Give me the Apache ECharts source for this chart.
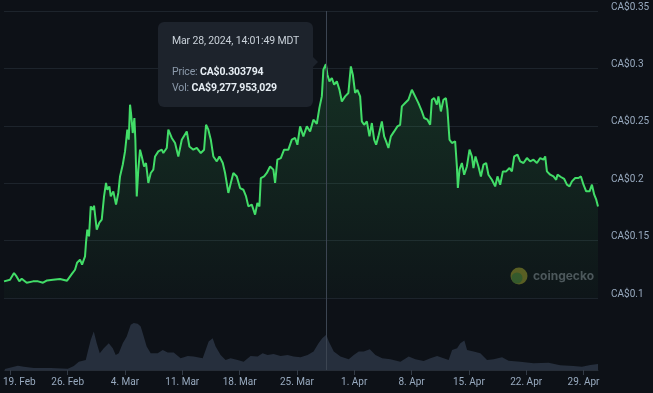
<!DOCTYPE html>
<html><head><meta charset="utf-8">
<script src="https://cdn.jsdelivr.net/npm/echarts@6/dist/echarts.min.js"></script>
<style>html,body{margin:0;padding:0;background:#0d1117;} #chart{width:653px;height:393px;}</style>
</head><body><div id="chart"></div>
<script>
// Days since 19 Feb 2024 00:00
const priceDays = [-0.67,0.06,0.55,0.88,1.20,1.49,2.10,2.87,3.48,4.09,
4.58,5.31,6.16,7.02,7.20,7.63,7.99,8.24,8.60,8.85,
9.21,9.33,9.49,9.70,9.91,10.15,10.31,10.64,10.96,11.25,
11.53,11.77,11.93,12.18,12.35,12.66,12.99,13.27,13.48,13.81,
14.09,14.37,14.54,14.70,14.82,15.03,15.23,15.35,15.52,15.71,
15.92,16.13,16.41,16.65,16.93,17.23,17.54,17.75,18.15,18.36,
18.57,18.76,18.97,19.18,19.37,19.79,20.19,20.59,21.01,21.62,
21.94,22.42,22.84,23.33,23.73,23.97,24.25,24.55,24.86,25.28,
25.60,26.01,26.29,26.69,26.99,27.30,27.72,28.12,28.52,28.85,
29.13,29.55,29.95,30.23,30.48,30.65,31.05,31.38,31.78,32.18,
32.39,32.67,33.09,33.49,34.01,34.43,34.83,35.11,35.44,35.84,
36.26,36.66,37.06,37.48,37.80,38.09,38.28,38.584595,38.77,39.02,
39.31,39.59,39.92,40.24,40.53,40.93,41.33,41.63,41.87,42.15,
42.43,42.76,42.97,43.25,43.58,43.90,44.19,44.47,44.71,44.99,
45.41,45.69,45.93,46.21,46.51,46.91,47.31,47.64,47.85,48.25,
48.65,49.07,49.47,49.87,50.29,50.57,50.97,51.30,51.51,51.79,
52.12,52.31,52.61,52.92,53.22,53.41,53.66,53.95,54.35,54.56,
54.68,54.88,55.17,55.45,55.78,56.10,56.39,56.58,56.83,57.19,
57.49,57.80,58.13,58.41,58.83,59.23,59.51,59.84,60.17,60.57,
60.98,61.27,61.55,61.95,62.28,62.68,63.10,63.50,63.90,64.32,
64.72,65.12,65.33,65.54,65.94,66.34,66.67,66.83,67.25,67.65,
67.98,68.30,68.59,68.99,69.39,69.69,70.00,70.33,70.74,71.03,
71.31,71.56,71.77];
// Price in CA$
const prices = [0.1145,0.1159,0.1218,0.1186,0.1145,0.1168,0.1133,0.1145,0.1145,0.1133,
0.1153,0.1159,0.1165,0.1151,0.1145,0.1212,0.1246,0.1307,0.1334,0.1290,
0.1362,0.1482,0.1595,0.1537,0.1798,0.1769,0.1804,0.1595,0.1656,0.1682,
0.1885,0.2002,0.1943,0.1972,0.1885,0.1929,0.1813,0.1915,0.2059,0.2161,
0.2277,0.2466,0.2379,0.2684,0.2611,0.2437,0.2568,0.2379,0.1885,0.2118,
0.2292,0.2233,0.2146,0.2176,0.2002,0.2089,0.2118,0.2233,0.2277,0.2292,
0.2292,0.2263,0.2248,0.2307,0.2466,0.2394,0.2350,0.2233,0.2379,0.2451,
0.2320,0.2292,0.2307,0.2263,0.2292,0.2509,0.2466,0.2379,0.2233,0.2190,
0.2233,0.2176,0.2089,0.1915,0.2002,0.2089,0.2059,0.1958,0.1943,0.1885,
0.1798,0.1813,0.1726,0.1827,0.1798,0.2045,0.2059,0.2089,0.2146,0.2118,
0.2002,0.2205,0.2219,0.2292,0.2292,0.2379,0.2394,0.2335,0.2495,0.2408,
0.2495,0.2451,0.2553,0.2518,0.2658,0.2756,0.2989,0.303794,0.2945,0.2887,
0.2916,0.2858,0.2887,0.2814,0.2712,0.2756,0.2786,0.3017,0.2945,0.2786,
0.2814,0.2756,0.2538,0.2509,0.2538,0.2408,0.2524,0.2379,0.2335,0.2408,
0.2538,0.2408,0.2364,0.2307,0.2408,0.2451,0.2495,0.2509,0.2669,0.2698,
0.2727,0.2814,0.2756,0.2698,0.2625,0.2568,0.2553,0.2509,0.2727,0.2742,
0.2684,0.2756,0.2625,0.2727,0.2742,0.2640,0.2379,0.2350,0.2364,0.2146,
0.1958,0.2118,0.2176,0.2074,0.2146,0.2292,0.2233,0.2132,0.2233,0.2146,
0.2059,0.2161,0.2176,0.2074,0.2030,0.1972,0.2059,0.1987,0.2103,0.2103,
0.2132,0.2103,0.2233,0.2248,0.2190,0.2176,0.2219,0.2190,0.2205,0.2176,
0.2219,0.2205,0.2233,0.2103,0.2074,0.2059,0.2030,0.2074,0.2054,0.2037,
0.1987,0.1972,0.2016,0.2045,0.2045,0.2059,0.1987,0.1929,0.1929,0.1987,
0.1900,0.1856,0.1798];
const volumeDays = [-0.67,0.92,1.65,2.87,4.94,7.02,7.75,8.36,9.21,9.46,
9.82,10.19,10.55,10.92,11.41,12.02,12.51,12.87,13.24,13.73,
14.21,14.70,15.07,15.55,15.92,16.29,16.65,17.14,17.99,18.61,
19.22,19.95,20.80,21.66,22.39,23.49,23.85,24.22,24.71,25.07,
25.68,26.29,26.90,27.76,28.49,29.34,30.20,30.81,31.42,32.15,
33.00,33.86,34.59,35.44,36.30,37.03,37.64,38.09,38.25,38.584595,
38.89,39.50,40.32,41.33,41.94,42.55,43.16,43.90,44.59,45.41,
46.42,47.64,48.65,49.47,50.48,51.30,52.12,52.92,53.53,53.95,
54.56,54.96,55.45,55.78,56.58,57.40,58.22,59.02,60.05,60.85,
62.28,63.90,65.73,67.16,68.78,69.81,70.83,71.77];
// Volume in billions of CA$
const volumes = [0.27,1.14,0.87,0.53,0.53,0.34,1.06,2.20,2.65,4.85,
7.95,10.15,7.08,4.43,5.75,7.08,5.75,3.98,4.43,7.08,
8.83,11.93,12.38,12.19,11.48,8.83,6.18,4.43,4.43,5.30,
4.59,4.59,3.10,3.71,3.53,3.10,5.30,7.50,8.40,6.18,
3.98,2.65,3.10,2.65,2.20,3.71,3.53,4.43,3.98,4.24,
3.71,3.98,3.53,3.37,3.98,4.85,7.08,8.40,8.90,9.277953029,
7.50,4.85,3.53,2.84,3.98,4.85,4.85,5.49,3.98,3.10,
2.84,2.20,3.53,2.84,2.39,3.10,3.71,3.10,2.65,5.30,
5.75,7.08,7.77,5.30,4.85,4.43,2.65,2.84,3.37,2.47,
2.20,1.78,1.94,1.25,1.06,0.87,1.33,1.59];
const xTickDays = [0,7,14,21,28,35,42,49,56,63,70];
const xTickLabels = ['19. Feb','26. Feb','4. Mar','11. Mar','18. Mar','25. Mar','1. Apr','8. Apr','15. Apr','22. Apr','29. Apr'];
const highlightIndex = 117; // Mar 28, 2024, 14:01:49
const tzLabel = 'MDT';
const monthNames = ['Jan','Feb','Mar','Apr','May','Jun','Jul','Aug','Sep','Oct','Nov','Dec'];

const chart = echarts.init(document.getElementById('chart'), null, {renderer:'canvas'});
const labelColor = '#98aabf';
const pad2 = n => String(n).padStart(2,'0');
const commas = n => String(n).replace(/\B(?=(\d{3})+(?!\d))/g, ',');

chart.setOption({
  backgroundColor: '#0d1117',
  animation: false,
  textStyle: {fontFamily: 'Roboto'},
  grid: [
    {left: 4, right: 55, top: 11, bottom: 95},
    {left: 4, right: 55, top: 298, bottom: 23}
  ],
  xAxis: [
    {type:'value', gridIndex:0, min:priceDays[0], max:priceDays[priceDays.length-1],
     axisLine:{show:false}, axisTick:{show:false}, axisLabel:{show:false}, splitLine:{show:false}},
    {type:'value', gridIndex:1, min:priceDays[0], max:priceDays[priceDays.length-1],
     axisLine:{show:true, lineStyle:{color:'#262d37'}},
     axisTick:{show:true, customValues:xTickDays, length:5, lineStyle:{color:'#333b46'}},
     splitLine:{show:false},
     axisLabel:{customValues:xTickDays, color:labelColor, fontSize:10, fontFamily:'Roboto', margin:7,
       formatter: v => { const i = xTickDays.indexOf(Math.round(v)); return i===0 ? '{first|'+xTickLabels[i]+'}' : xTickLabels[i]; },
       rich:{first:{padding:[0,0,0,18], color:labelColor, fontSize:10, fontFamily:'Roboto'}}}}
  ],
  yAxis: [
    {type:'value', gridIndex:0, position:'right', min:0.1, max:0.35, interval:0.05,
     axisLine:{show:false}, axisTick:{show:false},
     splitLine:{show:true, lineStyle:{color:'#1d242c', width:1}},
     axisLabel:{color:labelColor, fontSize:10, fontFamily:'Roboto', margin:13, verticalAlign:'bottom', lineHeight:8,
       formatter: v => 'CA$' + (+v.toFixed(2))}},
    {type:'value', gridIndex:1, min:0, max:19, show:false, splitLine:{show:false}}
  ],
  axisPointer: {link:[{xAxisIndex:'all'}]},
  tooltip: {
    trigger:'axis', triggerOn:'none', alwaysShowContent:true, transitionDuration:0,
    backgroundColor:'transparent', borderWidth:0, padding:0, extraCssText:'box-shadow:none;',
    axisPointer:{type:'line', animation:false, lineStyle:{color:'#3c4552', width:1, type:'solid'}},
    position: (pt, params, dom, rect, size) => [pt[0] - size.contentSize[0] - 13, pt[1] - 42],
    formatter: params => {
      const ps = params.find(p => p.seriesIndex === 0) || params[0];
      const day = ps.value[0], price = ps.value[1];
      let vi = 0;
      volumeDays.forEach((d,i) => { if (Math.abs(d-day) < Math.abs(volumeDays[vi]-day)) vi = i; });
      const t = new Date(Date.UTC(2024,1,19) + Math.round(day*86400)*1000);
      const dateStr = monthNames[t.getUTCMonth()] + ' ' + t.getUTCDate() + ', ' + t.getUTCFullYear() + ', ' +
        pad2(t.getUTCHours()) + ':' + pad2(t.getUTCMinutes()) + ':' + pad2(t.getUTCSeconds()) + ' ' + tzLabel;
      const volStr = 'CA$' + commas(Math.round(volumes[vi]*1e9));
      const bg = '#1d232c';
      return '<div style="position:relative;width:155px;box-sizing:border-box;padding:11px 14px 12px 14px;background:'+bg+';border-radius:6px;font-family:Roboto;font-size:10.5px;letter-spacing:-0.15px;line-height:15.5px;color:#c9d1d9;white-space:nowrap;">' +
        '<div>' + dateStr + '</div><div>&nbsp;</div>' +
        '<div><span style="color:#8c9aab">Price:</span> <b style="color:#e6edf3">CA$' + price.toFixed(6) + '</b></div>' +
        '<div><span style="color:#8c9aab">Vol:</span> <b style="color:#e6edf3">' + volStr + '</b></div>' +
        '<div style="position:absolute;left:100%;top:35px;width:0;height:0;border-top:5px solid transparent;border-bottom:5px solid transparent;border-left:5px solid '+bg+';"></div>' +
        '</div>';
    }
  },
  graphic: [
    {type:'circle', shape:{cx:519, cy:276, r:8.5}, style:{fill:'#5a5a21'}, silent:true},
    {type:'circle', shape:{cx:517, cy:278, r:5.5}, style:{fill:'#34552a'}, silent:true},
    {type:'text', x:533, y:276, silent:true, style:{text:'coingecko', fill:'#4d535b', fontSize:12, fontWeight:'bold', fontFamily:'Inter', verticalAlign:'middle'}}
  ],
  series: [
    {name:'Price', type:'line', xAxisIndex:0, yAxisIndex:0, showSymbol:false, symbol:'none',
     data: priceDays.map((d,i) => [d, prices[i]]),
     lineStyle:{color:'#3cc95f', width:2},
     areaStyle:{origin:'start', color:new echarts.graphic.LinearGradient(0,0,0,1,[
       {offset:0, color:'rgba(60,201,95,0.22)'},{offset:1, color:'rgba(60,201,95,0.03)'}])},
     z:3},
    {name:'Vol', type:'line', xAxisIndex:1, yAxisIndex:1, showSymbol:false, symbol:'none',
     data: volumeDays.map((d,i) => [d, volumes[i]]),
     lineStyle:{width:0, color:'#232b38'},
     areaStyle:{color:'#232b38', opacity:1}, z:2}
  ]
});
chart.dispatchAction({type:'showTip', seriesIndex:0, dataIndex:highlightIndex});
</script></body></html>
